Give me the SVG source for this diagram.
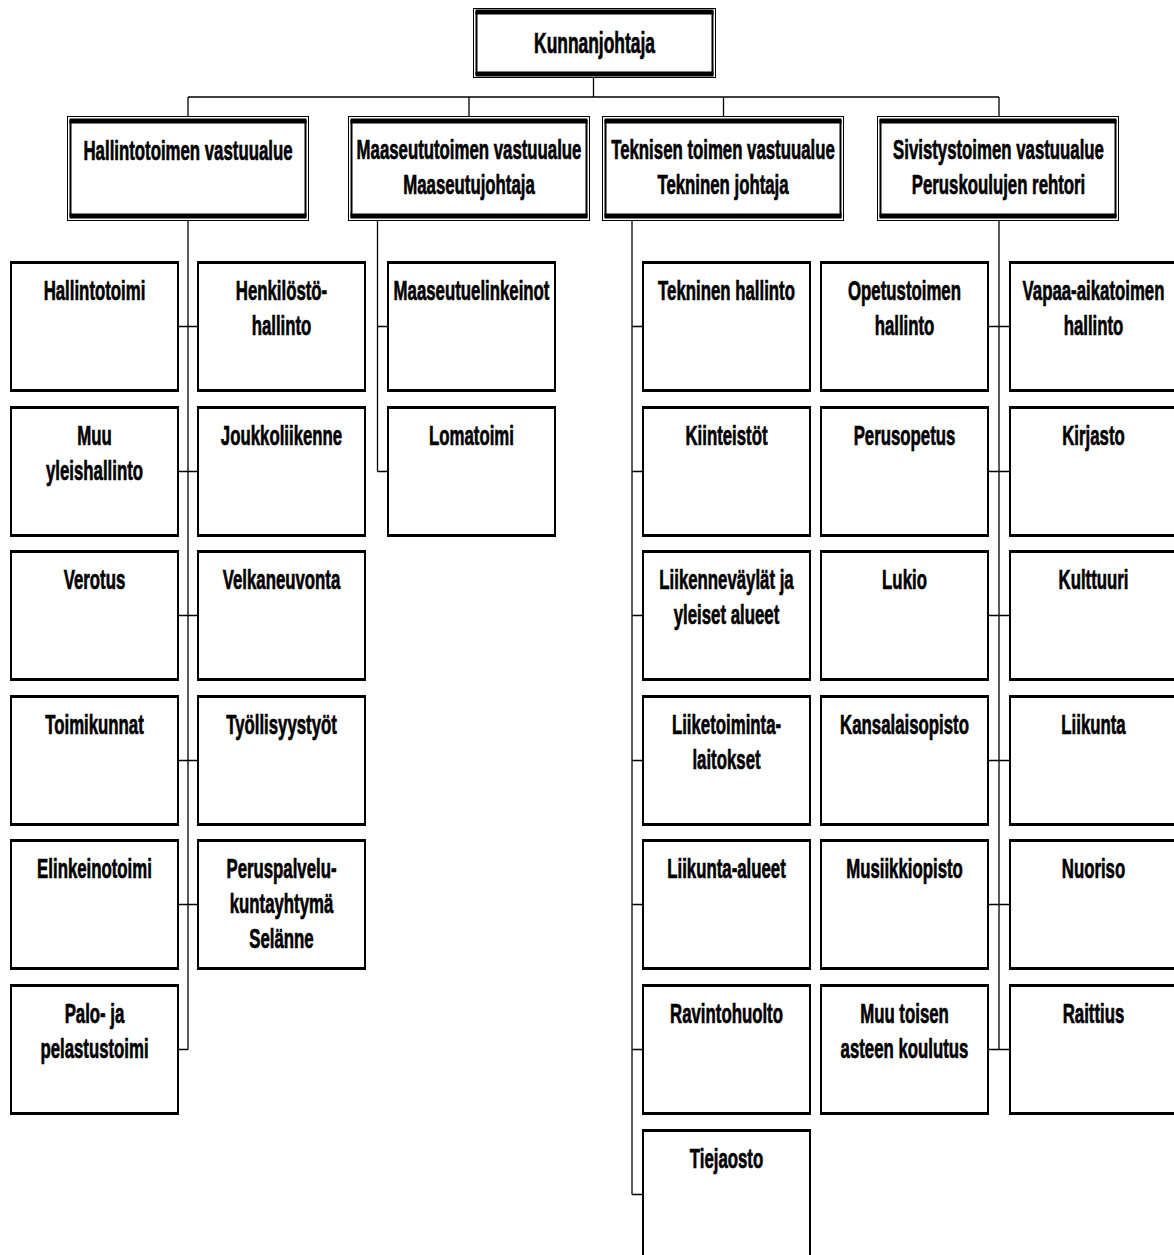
<svg xmlns="http://www.w3.org/2000/svg" xmlns:xlink="http://www.w3.org/1999/xlink" width="1174" height="1255" viewBox="0 0 1174 1255">
<style>
  .t { font-family: "Liberation Sans", Arial, sans-serif; font-weight: bold; font-size: 28px; fill: #000; stroke: #000; stroke-width: 0.7px; text-anchor: middle; }
  .tt { font-size: 29px; }
  .c { stroke: #000; stroke-width: 1.3; fill: none; }
</style>
<defs>
  <g id="leaf">
    <rect x="0" y="0" width="167" height="129" fill="#fff" stroke="#000" stroke-width="2"/>
    <path d="M-1 0.5H168M-1 128.5H168" stroke="#000" stroke-width="3"/>
  </g>
  <g id="hdr">
    <rect x="0.5" y="0.5" width="241" height="104" fill="#fff" stroke="#000" stroke-width="1"/>
    <rect x="3.5" y="5" width="235" height="95" fill="none" stroke="#000" stroke-width="2"/>
    <path d="M2.5 5H239.5M2.5 100H239.5" stroke="#000" stroke-width="5"/>
  </g>
  <g id="topbox">
    <rect x="0.5" y="0.5" width="242" height="69" fill="#fff" stroke="#000" stroke-width="1"/>
    <rect x="3.5" y="4" width="236" height="62" fill="none" stroke="#000" stroke-width="2"/>
    <path d="M2.5 4H240.5M2.5 66H240.5" stroke="#000" stroke-width="5"/>
  </g>
</defs>
<rect width="1174" height="1255" fill="#fff"/>

<g id="connectors">
  <path class="c" d="M593.5 78V97M188 97H999M188 97V116M469 97V116M723.5 97V116M999 97V116"/>
  <path class="c" d="M188 221V1049.5M177 326.5H198M177 471.5H198M177 615.5H198M177 760.5H198M177 904.5H198M177 1049.5H188"/>
  <path class="c" d="M377.5 221V471.5M377.5 326.5H388M377.5 471.5H388"/>
  <path class="c" d="M632 221V1194.5M632 326.5H643M632 471.5H643M632 615.5H643M632 760.5H643M632 904.5H643M632 1049.5H643M632 1194.5H643"/>
  <path class="c" d="M999 221V1049.5M988 326.5H1010M988 471.5H1010M988 615.5H1010M988 760.5H1010M988 904.5H1010M988 1049.5H1010"/>
</g>

<g id="kunnanjohtaja">
  <use href="#topbox" x="473" y="8"/>
  <text class="t tt" transform="translate(594.5,53) scale(0.6,1)" x="0">Kunnanjohtaja</text>
</g>

<g id="hallintotoimen-vastuualue">
  <use href="#hdr" x="67" y="116"/>
  <text class="t" transform="translate(188,160) scale(0.6,1)" x="0">Hallintotoimen vastuualue</text>
</g>
<g id="maaseututoimen-vastuualue">
  <use href="#hdr" x="348" y="116"/>
  <text class="t" transform="translate(469,159) scale(0.6,1)"><tspan x="0">Maaseututoimen vastuualue</tspan><tspan x="0" dy="35">Maaseutujohtaja</tspan></text>
</g>
<g id="teknisen-toimen-vastuualue">
  <use href="#hdr" x="602" y="116"/>
  <text class="t" transform="translate(723,159) scale(0.6,1)"><tspan x="0">Teknisen toimen vastuualue</tspan><tspan x="0" dy="35">Tekninen johtaja</tspan></text>
</g>
<g id="sivistystoimen-vastuualue">
  <use href="#hdr" x="877" y="116"/>
  <text class="t" transform="translate(998.5,159) scale(0.6,1)"><tspan x="0">Sivistystoimen vastuualue</tspan><tspan x="0" dy="35">Peruskoulujen rehtori</tspan></text>
</g>

<!-- Hallinto left column -->
<g id="hallintotoimi"><use href="#leaf" x="11" y="262"/><text class="t" transform="translate(94.5,300) scale(0.6,1)" x="0">Hallintotoimi</text></g>
<g id="muu-yleishallinto"><use href="#leaf" x="11" y="407"/><text class="t" transform="translate(94.5,445) scale(0.6,1)"><tspan x="0">Muu</tspan><tspan x="0" dy="35">yleishallinto</tspan></text></g>
<g id="verotus"><use href="#leaf" x="11" y="551"/><text class="t" transform="translate(94.5,589) scale(0.6,1)" x="0">Verotus</text></g>
<g id="toimikunnat"><use href="#leaf" x="11" y="696"/><text class="t" transform="translate(94.5,734) scale(0.6,1)" x="0">Toimikunnat</text></g>
<g id="elinkeinotoimi"><use href="#leaf" x="11" y="840"/><text class="t" transform="translate(94.5,878) scale(0.6,1)" x="0">Elinkeinotoimi</text></g>
<g id="palo-ja-pelastustoimi"><use href="#leaf" x="11" y="985"/><text class="t" transform="translate(94.5,1023) scale(0.6,1)"><tspan x="0">Palo- ja</tspan><tspan x="0" dy="35">pelastustoimi</tspan></text></g>

<!-- Hallinto right column -->
<g id="henkilostohallinto"><use href="#leaf" x="198" y="262"/><text class="t" transform="translate(281.5,300) scale(0.6,1)"><tspan x="0">Henkilöstö-</tspan><tspan x="0" dy="35">hallinto</tspan></text></g>
<g id="joukkoliikenne"><use href="#leaf" x="198" y="407"/><text class="t" transform="translate(281.5,445) scale(0.6,1)" x="0">Joukkoliikenne</text></g>
<g id="velkaneuvonta"><use href="#leaf" x="198" y="551"/><text class="t" transform="translate(281.5,589) scale(0.6,1)" x="0">Velkaneuvonta</text></g>
<g id="tyollisyystyot"><use href="#leaf" x="198" y="696"/><text class="t" transform="translate(281.5,734) scale(0.6,1)" x="0">Työllisyystyöt</text></g>
<g id="peruspalvelukuntayhtyma"><use href="#leaf" x="198" y="840"/><text class="t" transform="translate(281.5,878) scale(0.6,1)"><tspan x="0">Peruspalvelu-</tspan><tspan x="0" dy="35">kuntayhtymä</tspan><tspan x="0" dy="35">Selänne</tspan></text></g>

<!-- Maaseutu -->
<g id="maaseutuelinkeinot"><use href="#leaf" x="388" y="262"/><text class="t" transform="translate(471.5,300) scale(0.6,1)" x="0">Maaseutuelinkeinot</text></g>
<g id="lomatoimi"><use href="#leaf" x="388" y="407"/><text class="t" transform="translate(471.5,445) scale(0.6,1)" x="0">Lomatoimi</text></g>

<!-- Tekninen -->
<g id="tekninen-hallinto"><use href="#leaf" x="643" y="262"/><text class="t" transform="translate(726.5,300) scale(0.6,1)" x="0">Tekninen hallinto</text></g>
<g id="kiinteistot"><use href="#leaf" x="643" y="407"/><text class="t" transform="translate(726.5,445) scale(0.6,1)" x="0">Kiinteistöt</text></g>
<g id="liikennevaylat"><use href="#leaf" x="643" y="551"/><text class="t" transform="translate(726.5,589) scale(0.6,1)"><tspan x="0">Liikenneväylät ja</tspan><tspan x="0" dy="35">yleiset alueet</tspan></text></g>
<g id="liiketoimintalaitokset"><use href="#leaf" x="643" y="696"/><text class="t" transform="translate(726.5,734) scale(0.6,1)"><tspan x="0">Liiketoiminta-</tspan><tspan x="0" dy="35">laitokset</tspan></text></g>
<g id="liikunta-alueet"><use href="#leaf" x="643" y="840"/><text class="t" transform="translate(726.5,878) scale(0.6,1)" x="0">Liikunta-alueet</text></g>
<g id="ravintohuolto"><use href="#leaf" x="643" y="985"/><text class="t" transform="translate(726.5,1023) scale(0.6,1)" x="0">Ravintohuolto</text></g>
<g id="tiejaosto"><use href="#leaf" x="643" y="1130"/><text class="t" transform="translate(726.5,1168) scale(0.6,1)" x="0">Tiejaosto</text></g>

<!-- Sivistys left -->
<g id="opetustoimen-hallinto"><use href="#leaf" x="821" y="262"/><text class="t" transform="translate(904.5,300) scale(0.6,1)"><tspan x="0">Opetustoimen</tspan><tspan x="0" dy="35">hallinto</tspan></text></g>
<g id="perusopetus"><use href="#leaf" x="821" y="407"/><text class="t" transform="translate(904.5,445) scale(0.6,1)" x="0">Perusopetus</text></g>
<g id="lukio"><use href="#leaf" x="821" y="551"/><text class="t" transform="translate(904.5,589) scale(0.6,1)" x="0">Lukio</text></g>
<g id="kansalaisopisto"><use href="#leaf" x="821" y="696"/><text class="t" transform="translate(904.5,734) scale(0.6,1)" x="0">Kansalaisopisto</text></g>
<g id="musiikkiopisto"><use href="#leaf" x="821" y="840"/><text class="t" transform="translate(904.5,878) scale(0.6,1)" x="0">Musiikkiopisto</text></g>
<g id="muu-toisen-asteen-koulutus"><use href="#leaf" x="821" y="985"/><text class="t" transform="translate(904.5,1023) scale(0.6,1)"><tspan x="0">Muu toisen</tspan><tspan x="0" dy="35">asteen koulutus</tspan></text></g>

<!-- Sivistys right -->
<g id="vapaa-aikatoimen-hallinto"><use href="#leaf" x="1010" y="262"/><text class="t" transform="translate(1093.5,300) scale(0.6,1)"><tspan x="0">Vapaa-aikatoimen</tspan><tspan x="0" dy="35">hallinto</tspan></text></g>
<g id="kirjasto"><use href="#leaf" x="1010" y="407"/><text class="t" transform="translate(1093.5,445) scale(0.6,1)" x="0">Kirjasto</text></g>
<g id="kulttuuri"><use href="#leaf" x="1010" y="551"/><text class="t" transform="translate(1093.5,589) scale(0.6,1)" x="0">Kulttuuri</text></g>
<g id="liikunta"><use href="#leaf" x="1010" y="696"/><text class="t" transform="translate(1093.5,734) scale(0.6,1)" x="0">Liikunta</text></g>
<g id="nuoriso"><use href="#leaf" x="1010" y="840"/><text class="t" transform="translate(1093.5,878) scale(0.6,1)" x="0">Nuoriso</text></g>
<g id="raittius"><use href="#leaf" x="1010" y="985"/><text class="t" transform="translate(1093.5,1023) scale(0.6,1)" x="0">Raittius</text></g>
</svg>
